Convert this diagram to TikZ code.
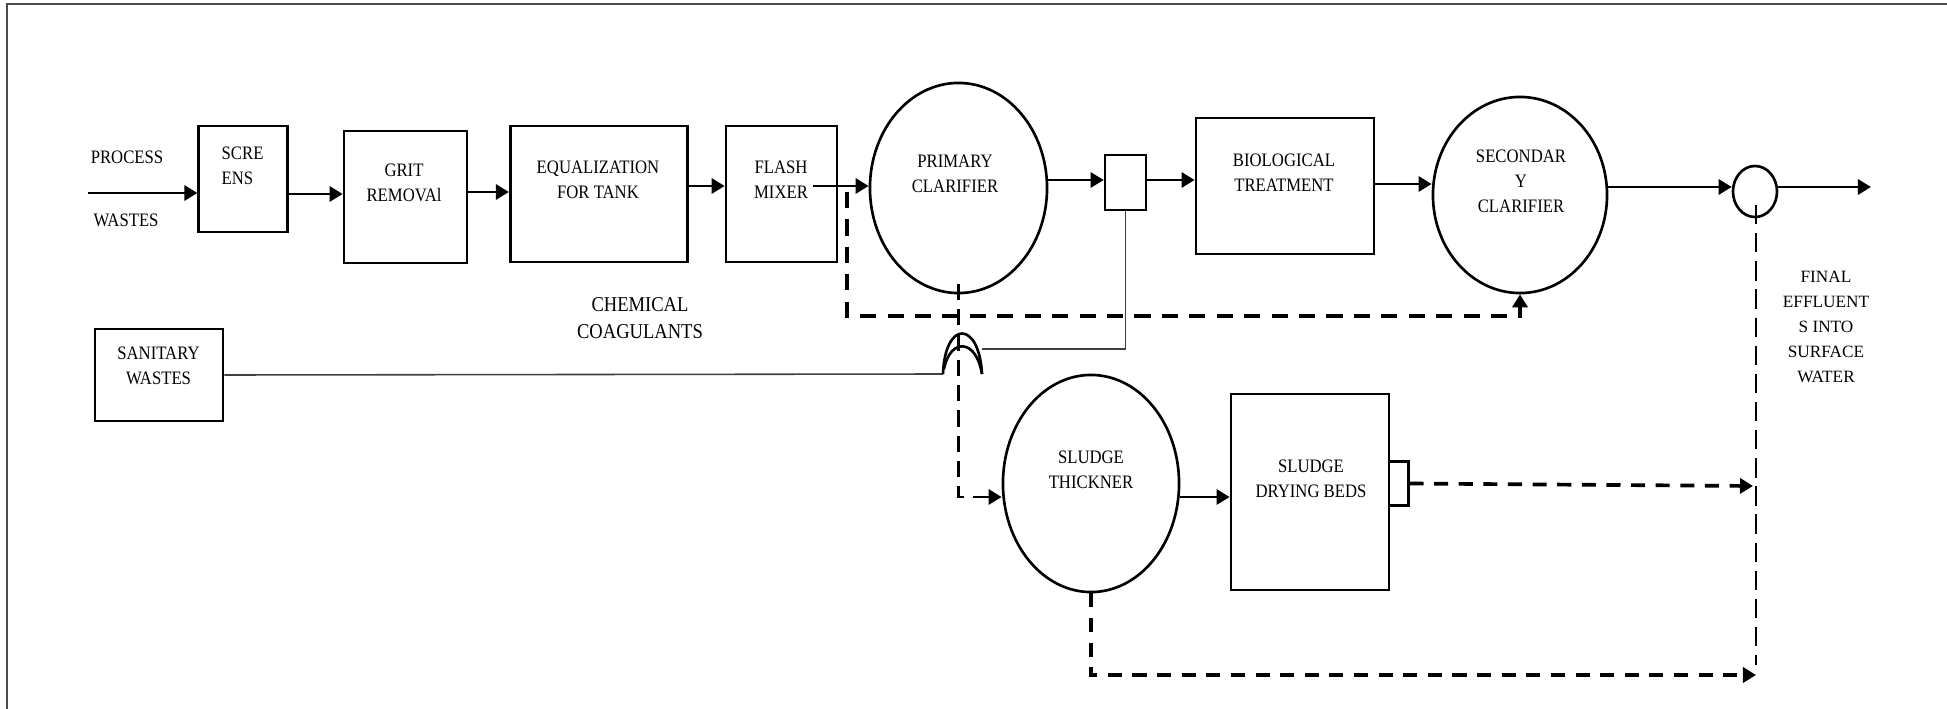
\documentclass[tikz,border=0pt]{standalone}
\usepackage{fontspec}
\setmainfont{Liberation Serif}[FakeStretch=0.88]
\newfontfamily\widefont{Liberation Serif}
\usetikzlibrary{arrows.meta,shapes.geometric}

\tikzset{
  frame/.style={draw=black!70, line width=0.6pt},
  unit box/.style={draw, line width=0.75pt, inner sep=0pt},
  tank/.style={draw, ellipse, line width=0.75pt, inner sep=0pt},
  lbl/.style={font=\fontsize{5.4}{7.1}\selectfont, align=center, inner sep=0pt},
  biglbl/.style={font=\fontsize{6}{7.7}\selectfont, align=center, inner sep=0pt},
  sidelbl/.style={font=\widefont\fontsize{4.9}{7.1}\selectfont, align=center, inner sep=0pt},
  tip/.style={-{Triangle[length=3.7pt,width=4.3pt]}},
  flow/.style={line width=0.75pt, tip},
  pipe/.style={line width=0.45pt, draw=black!75},
  returndash/.style={line width=1.15pt, dash pattern=on 4.6pt off 3.2pt},
  sludgedash/.style={line width=0.75pt, dash pattern=on 4.6pt off 2.6pt},
  outdash/.style={line width=1.05pt, dash pattern=on 4pt off 3pt},
  finaldash/.style={line width=0.8pt, dash pattern=on 5.5pt off 2.5pt}
}

\begin{document}
\begin{tikzpicture}[x=0.01cm,y=-0.01cm]
\useasboundingbox (0,0) rectangle (1947,709);
\draw[frame] (7,709) -- (7,4) -- (1947,4);

% treatment units
\node[unit box, minimum width=0.885cm, minimum height=1.06cm] (screens) at (243,179) {};
\node[unit box, minimum width=1.23cm, minimum height=1.32cm] (grit) at (405.5,197) {};
\node[unit box, minimum width=1.775cm, minimum height=1.36cm] (equal) at (599,194) {};
\node[unit box, minimum width=1.11cm, minimum height=1.36cm] (flash) at (781.5,194) {};
\node[tank, minimum width=1.77cm, minimum height=2.10cm] (primary) at (958.5,188) {};
\node[unit box, minimum width=0.41cm, minimum height=0.55cm] (splitter) at (1125.5,182.5) {};
\node[unit box, minimum width=1.78cm, minimum height=1.36cm] (bio) at (1285,186) {};
\node[tank, minimum width=1.74cm, minimum height=1.96cm] (secondary) at (1520,195) {};
\node[tank, minimum width=0.44cm, minimum height=0.51cm] (outlet) at (1755,191.5) {};
\node[unit box, line width=0.8pt, minimum width=1.28cm, minimum height=0.92cm] (sanitary) at (159,375) {};
\node[tank, minimum width=1.76cm, minimum height=2.17cm] (thickener) at (1091,483.5) {};
\node[unit box, minimum width=1.58cm, minimum height=1.96cm] (beds) at (1310,492) {};
\node[unit box, line width=0.85pt, minimum width=0.19cm, minimum height=0.43cm] (bedsout) at (1398.5,483.5) {};

% labels
\node[lbl] (tprocess) at (127,157) {PROCESS};
\node[lbl] (twastes) at (126,220) {WASTES};
\node[lbl, align=left, anchor=west] (tscreens) at (221,165.5) {SCRE\\ENS};
\node[lbl] (tgrit) at (404,183) {GRIT\\REMOVAl};
\node[lbl] (tequal) at (598,179.5) {EQUALIZATION\\FOR TANK};
\node[lbl] (tflash) at (781,180) {FLASH\\MIXER};
\node[lbl] (tprimary) at (955,173.5) {PRIMARY\\CLARIFIER};
\node[lbl] (tbio) at (1284,172.5) {BIOLOGICAL\\TREATMENT};
\node[lbl] (tsecondary) at (1521,181) {SECONDAR\\Y\\CLARIFIER};
\node[biglbl] (tchem) at (640,318.5) {CHEMICAL\\COAGULANTS};
\node[lbl] (tsanitary) at (158.5,365.5) {SANITARY\\WASTES};
\node[lbl] (tthick) at (1091,469.5) {SLUDGE\\THICKNER};
\node[lbl] (tbeds) at (1311,478.5) {SLUDGE\\DRYING BEDS};
\node[sidelbl] (tfinal) at (1826,327) {FINAL\\EFFLUENT\\S INTO\\SURFACE\\WATER};

% free ends of connectors
\coordinate (inlet) at (88,193);
\coordinate (mixout) at (813,186);
\coordinate (discharge) at (1871,187);
\coordinate (returnstart) at (847,192);
\coordinate (hopleft) at (943,374);
\coordinate (hopright) at (982,374);
\coordinate (hoptop) at (982,349);
\coordinate (drain) at (1756,205);
\coordinate (drainend) at (1756,665);
\coordinate (bedsjoin) at (1753,486);
\coordinate (thickjoin) at (1756,675);

% main liquid line
\draw[flow] (inlet) -- (screens.west |- 0,193);
\draw[flow] (screens.east |- 0,194) -- (grit.west |- 0,194);
\draw[flow] (grit.east |- 0,192) -- (equal.west |- 0,192);
\draw[flow] (equal.east |- 0,186) -- (flash.west |- 0,186);
\draw[flow] (mixout) -- (primary.west |- 0,186);
\draw[flow] (primary.east |- 0,180) -- (splitter.west |- 0,180);
\draw[flow] (splitter.east |- 0,180) -- (bio.west |- 0,180);
\draw[flow] (bio.east |- 0,184) -- (secondary.west |- 0,184);
\draw[flow] (secondary.east |- 0,187) -- (outlet.west |- 0,187);
\draw[flow] (outlet.east |- 0,187) -- (discharge);
\draw[flow] (thickener.east |- 0,497) -- (beds.west |- 0,497);

% sanitary wastes line with crossover hop
\draw[pipe] (sanitary.east) -- (hopleft);
\draw[line width=0.75pt] (hopleft) .. controls (945,320) and (979,320) .. (hopright);
\draw[line width=0.75pt] (944,369) .. controls (950,338) and (976,338) .. (hopright);
\draw[pipe] (splitter.south) |- (hoptop);

% sludge and return lines
\draw[returndash, tip] (returnstart) |- (secondary.south |- 0,316) -- (secondary.south);
\draw[sludgedash, tip] ([yshift=3pt]primary.south) |- (thickener.west |- 0,497);
\draw[outdash, tip] (bedsout.east) -- (bedsjoin);
\draw[outdash, tip] (thickener.south) |- (thickjoin);
\draw[finaldash] (drain) -- (drainend);
\end{tikzpicture}
\end{document}
